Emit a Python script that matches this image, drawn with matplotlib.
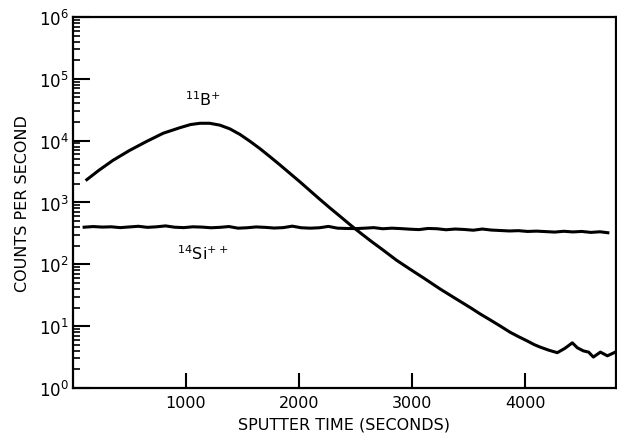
import matplotlib
matplotlib.use("Agg")
import matplotlib.pyplot as plt
from matplotlib.ticker import FixedLocator, NullFormatter, LogFormatterSciNotation

# Boron-11 profile (sputter time in s, counts per second)
b_time = [124, 230, 354, 500, 655, 800, 947, 1040, 1124, 1210, 1301, 1389, 1478,
          1566, 1655, 1743, 1830, 1920, 2010, 2097, 2185, 2274, 2360, 2451, 2540,
          2640, 2743, 2860, 2982, 3100, 3248, 3380, 3513, 3600, 3690, 3780, 3867,
          3940, 4018, 4080, 4133, 4210, 4283, 4350, 4416, 4460, 4513, 4560, 4602,
          4664, 4726, 4796]
b_counts = [2340, 3310, 4790, 6920, 9770, 13200, 16200, 18200, 19100, 19100, 17800,
            15500, 12600, 9770, 7410, 5500, 4070, 2950, 2140, 1550, 1120, 813, 603,
            437, 324, 234, 170, 117, 83.2, 60.3, 39.8, 28.2, 20.0, 15.8, 12.6, 10.0,
            7.94, 6.76, 5.75, 5.01, 4.57, 4.07, 3.72, 4.37, 5.37, 4.47, 3.98, 3.80,
            3.16, 3.80, 3.31, 3.80]

# Silicon reference signal
si_time = [100, 180, 260, 340, 420, 500, 580, 660, 740, 820, 900, 980, 1060, 1140,
           1220, 1300, 1380, 1460, 1540, 1620, 1700, 1780, 1860, 1940, 2020, 2100,
           2180, 2260, 2340, 2420, 2500, 2580, 2660, 2740, 2820, 2900, 2980, 3060,
           3140, 3220, 3300, 3380, 3460, 3540, 3620, 3700, 3780, 3860, 3940, 4020,
           4100, 4180, 4260, 4340, 4420, 4500, 4580, 4660, 4730]
si_counts = [398, 408, 400, 404, 392, 402, 412, 396, 404, 418, 398, 392, 404, 400,
             390, 396, 408, 384, 390, 402, 396, 386, 392, 414, 390, 384, 390, 410,
             384, 380, 378, 384, 392, 376, 384, 378, 370, 364, 380, 376, 362, 372,
             366, 356, 372, 358, 352, 346, 350, 340, 344, 338, 332, 342, 334, 340,
             328, 336, 324]

x_ticks = [1000, 2000, 3000, 4000]
x_ticklabels = ["1000", "2000", "3000", "4000"]
y_decades = [1, 10, 100, 1000, 10000, 100000, 1000000]

fig = plt.figure(figsize=(6.17, 4.39), dpi=100)
ax = fig.add_axes([0.118, 0.114, 0.880, 0.845])

ax.plot(b_time, b_counts, color="black", lw=2.2, solid_joinstyle="round")
ax.plot(si_time, si_counts, color="black", lw=2.2, solid_joinstyle="round")

ax.set_yscale("log")
ax.set_ylim(1, 1e6)
ax.set_xlim(0, 4800)

minor = [d * k for d in y_decades[:-1] for k in range(2, 10)]
ax.yaxis.set_major_locator(FixedLocator(y_decades))
ax.yaxis.set_major_formatter(LogFormatterSciNotation())
ax.yaxis.set_minor_locator(FixedLocator(minor))
ax.yaxis.set_minor_formatter(NullFormatter())
ax.xaxis.set_major_locator(FixedLocator(x_ticks))
ax.set_xticklabels(x_ticklabels)

ax.tick_params(axis="y", which="major", direction="in", length=12, width=1.5,
               labelsize=12, pad=3)
ax.tick_params(axis="y", which="minor", direction="in", length=5, width=1.2)
ax.tick_params(axis="x", which="major", direction="in", length=11, width=1.5,
               labelsize=11.5, pad=5)
for s in ax.spines.values():
    s.set_linewidth(1.6)

ax.set_xlabel("SPUTTER TIME (SECONDS)", fontsize=11.5, labelpad=5)
ax.set_ylabel("COUNTS PER SECOND", fontsize=11.5, labelpad=6)

ax.text(1150, 4.8e4, r"$^{11}$B$^{+}$", fontsize=11.5, ha="center", va="center")
ax.text(1150, 1.55e2, r"$^{14}$Si$^{++}$", fontsize=11.5, ha="center", va="center")

fig.savefig("out.png", dpi=100)
